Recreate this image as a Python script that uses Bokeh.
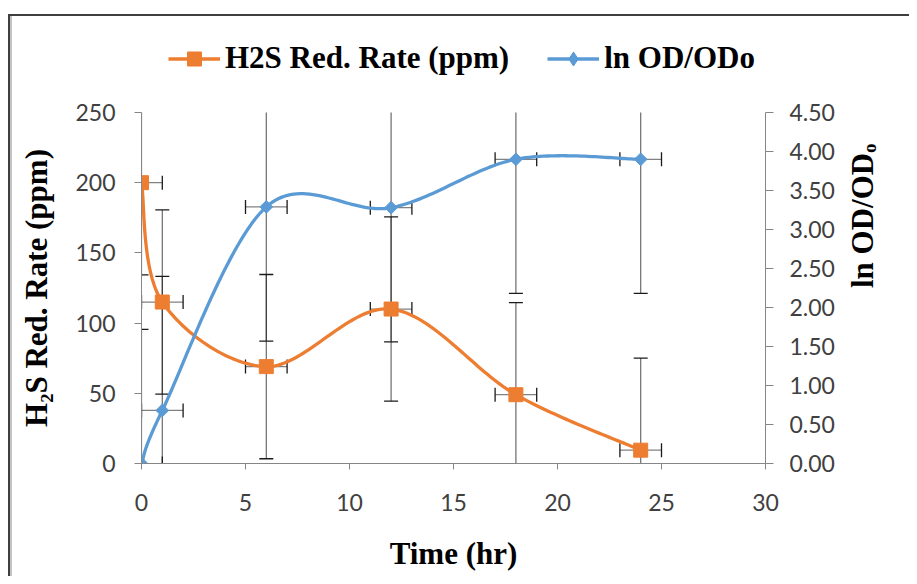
import math
import numpy as np
from bokeh.plotting import figure
from bokeh.layouts import column
from bokeh.models import (Range1d, LinearAxis, Legend, LegendItem, FixedTicker,
                          NumeralTickFormatter)
from bokeh.embed import file_html
from bokeh.resources import INLINE

# ---- data ----
time_hr = [0, 1, 6, 12, 18, 24]
h2s_ppm = [200, 115, 69, 110, 49, 9.5]
ln_od = [0.0, 0.68, 3.29, 3.28, 3.90, 3.90]
h2s_err = [65.6, 65.6, 65.6, 65.6, 65.6, 65.6]
ln_od_err = [1.72, 1.72, 1.72, 1.72, 1.72, 1.72]
time_err = [1, 1, 1, 1, 1, 1]
x_ticks = [0, 5, 10, 15, 20, 25, 30]
y_ticks = [0, 50, 100, 150, 200, 250]
y2_ticks = [0.0, 0.5, 1.0, 1.5, 2.0, 2.5, 3.0, 3.5, 4.0, 4.5]
series_names = ["H2S Red. Rate (ppm)", "ln OD/ODo"]

ORANGE = "#ED7D31"
BLUE = "#5B9BD5"
AXIS_GRAY = "#868686"
TICK_TXT = "#404040"
DARK = "#3f3f3f"
LIGHT = "#c4c4c4"


def smooth(xs, ys, n=40):
    """Excel-like smoothed line: cubic Bezier through the points (Catmull-Rom tangents)."""
    pts = np.column_stack([xs, ys]).astype(float)
    m = len(pts)
    out = []
    t = np.linspace(0, 1, n)[:, None]
    for i in range(m - 1):
        p0 = pts[i - 1] if i > 0 else pts[i]
        p1 = pts[i]
        p2 = pts[i + 1]
        p3 = pts[i + 2] if i + 2 < m else pts[i + 1]
        c1 = p1 + (p2 - p0) / 6.0
        c2 = p2 - (p3 - p1) / 6.0
        seg = (1 - t) ** 3 * p1 + 3 * (1 - t) ** 2 * t * c1 + 3 * (1 - t) * t ** 2 * c2 + t ** 3 * p2
        if i > 0:
            seg = seg[1:]
        out.append(seg)
    arr = np.vstack(out)
    return arr[:, 0], arr[:, 1]


# ---------------- legend strip (top of the chart area) ----------------
lg = figure(width=909, height=98, x_range=Range1d(0, 1), y_range=Range1d(0, 1),
            output_backend="svg", toolbar_location=None,
            x_axis_location=None, y_axis_location=None, min_border=0)
lg.outline_line_color = None
lg.xgrid.visible = False
lg.ygrid.visible = False
lg.background_fill_alpha = 0
lg.border_fill_alpha = 0
lg.styles = {
    "background-color": "white",
    "background-image": (f"linear-gradient({DARK},{DARK}), linear-gradient({DARK},{DARK}), "
                         f"linear-gradient({LIGHT},{LIGHT})"),
    "background-size": "100% 2px, 2px 100%, 2px 100%",
    "background-position": "8px 14px, 8px 14px, 10px 16px",
    "background-repeat": "no-repeat",
}
# key glyphs: they carry only the series styles (a single missing value, nothing is drawn)
nan = [float("nan")]
k1l = lg.line(nan, nan, line_color=ORANGE, line_width=3.3)
k1m = lg.scatter(nan, nan, marker="square", fill_color=ORANGE, line_color=ORANGE)
k2l = lg.line(nan, nan, line_color=BLUE, line_width=3.3)
k2m = lg.scatter(nan, nan, marker="diamond", fill_color=BLUE, line_color=BLUE)

legend = Legend(items=[LegendItem(label=series_names[0], renderers=[k1l, k1m]),
                       LegendItem(label=series_names[1], renderers=[k2l, k2m])],
                orientation="horizontal", location=(27, 22))
legend.padding = 0
legend.margin = 0
legend.spacing = 38
legend.glyph_width = 52
legend.glyph_height = 35
legend.label_standoff = 5
legend.border_line_color = None
legend.background_fill_alpha = 0
legend.label_text_font = "Liberation Serif"
legend.label_text_font_size = "31px"
legend.label_text_font_style = "bold"
legend.label_text_color = "black"
lg.add_layout(legend, "center")

# ---------------- main chart ----------------
p = figure(width=909, height=478, frame_width=624, frame_height=351,
           x_range=Range1d(0, 30), y_range=Range1d(0, 250),
           output_backend="svg", toolbar_location=None,
           min_border_left=141, min_border_right=144,
           min_border_top=14, min_border_bottom=113)
p.styles = {
    "background-color": "white",
    "background-image": f"linear-gradient({DARK},{DARK}), linear-gradient({LIGHT},{LIGHT})",
    "background-size": "2px 100%, 2px 100%",
    "background-position": "8px 0px, 10px 0px",
    "background-repeat": "no-repeat",
}
p.extra_y_ranges = {"od": Range1d(0, 4.5)}
p.outline_line_color = None
p.xgrid.visible = False
p.ygrid.visible = False
p.background_fill_color = "white"
p.border_fill_alpha = 0

AX_FONT = "Lato"
AX_SIZE = "23px"
TITLE_FONT = "Liberation Serif"
TITLE_SIZE = "31px"


def style_axis(ax, tick_out):
    ax.axis_line_color = AXIS_GRAY
    ax.axis_line_width = 1
    ax.major_tick_line_color = AXIS_GRAY
    ax.major_tick_in = 0
    ax.major_tick_out = tick_out
    ax.minor_tick_line_color = None
    ax.major_label_text_font = AX_FONT
    ax.major_label_text_font_size = AX_SIZE
    ax.major_label_text_color = TICK_TXT
    ax.axis_label_text_font = TITLE_FONT
    ax.axis_label_text_font_size = TITLE_SIZE
    ax.axis_label_text_font_style = "bold"
    ax.axis_label_text_color = "black"


# bottom axis
xa = p.xaxis[0]
style_axis(xa, 6)
xa.ticker = FixedTicker(ticks=x_ticks)
xa.axis_label = "Time (hr)"
xa.major_label_standoff = 24
xa.axis_label_standoff = 22

# left axis
ya = p.yaxis[0]
style_axis(ya, 7)
ya.ticker = FixedTicker(ticks=y_ticks)
ya.axis_label = "H\u2082S Red. Rate (ppm)"
ya.major_label_standoff = 19
ya.axis_label_standoff = 18

# right axis
ra = LinearAxis(y_range_name="od")
style_axis(ra, 8)
ra.ticker = FixedTicker(ticks=y2_ticks)
ra.formatter = NumeralTickFormatter(format="0.00")
ra.axis_label = "ln OD/OD\u2092"
ra.major_label_standoff = 16
ra.axis_label_standoff = 25
ra.axis_label_orientation = math.pi / 2
p.add_layout(ra, "right")

# ---- error bars ----
EB_COL = "#1a1a1a"
h2s_lo = [y - e for y, e in zip(h2s_ppm, h2s_err)]
h2s_hi = [y + e for y, e in zip(h2s_ppm, h2s_err)]
od_lo = [y - e for y, e in zip(ln_od, ln_od_err)]
od_hi = [y + e for y, e in zip(ln_od, ln_od_err)]
t_lo = [x - e for x, e in zip(time_hr, time_err)]
t_hi = [x + e for x, e in zip(time_hr, time_err)]

for ys, lo, hi, rng in ((h2s_ppm, h2s_lo, h2s_hi, "default"), (ln_od, od_lo, od_hi, "od")):
    # vertical bars
    p.segment(x0=time_hr, y0=lo, x1=time_hr, y1=hi, line_color=EB_COL,
              line_width=1.2, line_alpha=0.65, y_range_name=rng)
    p.scatter(x=time_hr + time_hr, y=lo + hi, marker="dash", size=14,
              line_color=EB_COL, line_width=1.3, y_range_name=rng)
    # horizontal bars
    p.segment(x0=t_lo, y0=ys, x1=t_hi, y1=ys, line_color=EB_COL,
              line_width=1.2, line_alpha=0.55, y_range_name=rng)
    p.scatter(x=t_lo + t_hi, y=list(ys) + list(ys), marker="dash", size=14,
              angle=math.pi / 2, line_color=EB_COL, line_width=1.3, y_range_name=rng)

# ---- series ----
sx, sy = smooth(time_hr, h2s_ppm)
p.line(sx, sy, line_color=ORANGE, line_width=3.3, line_join="round", line_cap="round")
bx, by = smooth(time_hr, ln_od)
p.line(bx, by, line_color=BLUE, line_width=3.3, line_join="round", line_cap="round",
       y_range_name="od")
p.scatter(time_hr, h2s_ppm, marker="square", size=14, fill_color=ORANGE, line_color=ORANGE)
p.scatter(time_hr, ln_od, marker="square", size=9, angle=math.pi / 4,
          fill_color=BLUE, line_color=BLUE, y_range_name="od")

layout = column(lg, p, spacing=0)
open("out.html", "w").write(file_html(layout, INLINE))
